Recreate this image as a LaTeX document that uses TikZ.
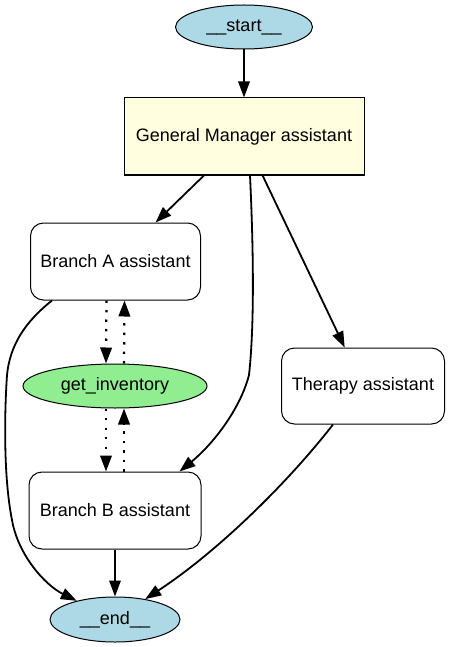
\documentclass[tikz,border=0pt]{standalone}
\usepackage{fontspec}
\setmainfont{Liberation Sans}
\usetikzlibrary{shapes.geometric,arrows.meta,calc}
\definecolor{startblue}{HTML}{ADD8E6}
\definecolor{gmyellow}{HTML}{FFFFE0}
\definecolor{invgreen}{HTML}{90EE90}
\begin{document}
\begin{tikzpicture}[x=1pt,y=-1pt,
  every node/.style={font=\fontsize{18}{21}\selectfont, inner sep=0pt, line width=1pt},
  ovalnode/.style={draw, ellipse},
  gmbox/.style={draw, fill=gmyellow, rectangle},
  agentbox/.style={draw, fill=white, rectangle, rounded corners=13pt, minimum width=170pt, minimum height=77pt},
  flow/.style={line width=1.8pt, -{Triangle[length=16pt,width=11.5pt]}},
  toolflow/.style={line width=2.3pt, dash pattern=on 2.3pt off 7.2pt, -{Triangle[length=16pt,width=11.5pt]}}
]
\useasboundingbox (0,0) rectangle (450,647);

\node[ovalnode, fill=startblue, minimum width=137pt, minimum height=44pt] (start) at (244,27) {\_\_start\_\_};
\node[gmbox, minimum width=240pt, minimum height=77pt] (gm) at (244,136.5) {General Manager assistant};
\node[agentbox] (ba) at (115.5,261.5) {Branch A assistant};
\node[ovalnode, fill=invgreen, minimum width=184pt, minimum height=44pt] (inv) at (115,386) {get\_inventory};
\node[agentbox, minimum width=163pt, minimum height=76pt] (th) at (363,386) {Therapy assistant};
\node[agentbox, minimum width=172pt] (bb) at (115,510.5) {Branch B assistant};
\node[ovalnode, fill=startblue, minimum width=130pt, minimum height=45pt] (end) at (115,619.5) {\_\_end\_\_};

\draw[flow] (start) -- (gm);
\draw[flow] (gm) -- (ba);
\draw[flow] (gm) -- (th);
\draw[flow] ($(gm.south)+(6,0)$) .. controls (254,260) and (254,330) .. (249,375)
  .. controls (240,410) and (212,445) .. ($(bb.north east)+(-22,0)$);

\draw[toolflow] ($(ba.south)+(-9,0)$) -- ($(inv.north)+(-9,0)$);
\draw[toolflow] ($(inv.north)+(9,0)$) -- ($(ba.south)+(9,0)$);
\draw[toolflow] ($(inv.south)+(-9,0)$) -- ($(bb.north)+(-9,0)$);
\draw[toolflow] ($(bb.north)+(9,0)$) -- ($(inv.south)+(9,0)$);

\draw[flow] ($(ba.south west)+(22,0)$) .. controls (25,322) and (10,345) .. (7,375)
  .. controls (4,420) and (4,480) .. (12,520)
  .. controls (18,555) and (45,585) .. (end.154);
\draw[flow] (bb) -- (end);
\draw[flow] ($(th.south)+(-30,0)$) .. controls (290,480) and (220,550) .. (end.34);
\end{tikzpicture}
\end{document}
